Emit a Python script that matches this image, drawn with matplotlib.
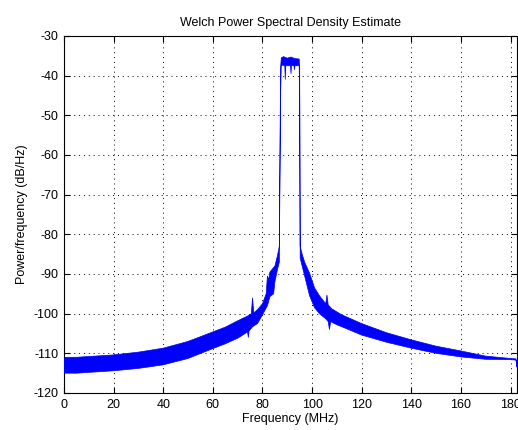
import numpy as np
import matplotlib
matplotlib.use("Agg")
from matplotlib import pyplot as plt

# envelope of the Welch PSD trace (MHz, dB/Hz)
upper_freq = [0, 5, 10, 20, 30, 40, 50, 60, 65, 70, 74, 75.5, 76, 76.5, 78, 80,
              81.5, 82, 82.5, 83, 85, 86, 86.8, 87.3, 87.6, 88.5, 90, 91.5, 93,
              94.8, 95.0, 95.2, 96, 97, 99, 101, 103, 105.5, 106, 106.5, 108,
              112, 120, 130, 140, 150, 160, 170, 180, 182.2, 182.6]
upper_db = [-111.0, -111.0, -110.8, -110.4, -109.7, -108.7, -107.0, -104.6,
            -103.4, -101.8, -100.6, -100.0, -96.0, -99.8, -99.0, -97.5, -95.0,
            -90.5, -91.5, -89.5, -88.0, -85.5, -83.0, -38.0, -35.5, -35.2,
            -35.6, -35.3, -35.7, -35.8, -38.0, -83.0, -85.0, -87.0, -89.8,
            -93.5, -95.5, -97.5, -95.3, -97.8, -98.8, -100.3, -102.5, -104.8,
            -106.6, -108.2, -109.4, -110.7, -111.3, -111.4, -113.0]

lower_freq = [0, 5, 10, 20, 30, 40, 50, 60, 65, 70, 74, 74.3, 74.6, 76, 78, 80,
              82, 83, 84.5, 85, 86, 86.8, 87.3, 87.6, 89.0, 89.2, 89.4, 91.3,
              91.5, 91.7, 92.7, 92.9, 93.1, 94.8, 95.0, 95.2, 96, 97, 99, 101,
              103, 105.5, 106.5, 107, 107.5, 110, 112, 120, 130, 140, 150, 160,
              170, 180, 182.2, 182.6]
lower_db = [-115.0, -115.0, -114.8, -114.4, -113.8, -112.9, -111.3, -108.8,
            -107.6, -106.2, -104.6, -106.0, -104.4, -103.3, -102.5, -100.3,
            -98.0, -95.7, -95.0, -92.0, -89.0, -87.0, -45.0, -37.3, -37.5,
            -41.0, -37.5, -37.5, -39.5, -37.5, -37.5, -38.5, -37.5, -37.5,
            -45.0, -86.0, -88.0, -90.5, -95.5, -98.5, -100.0, -101.3, -102.0,
            -104.0, -102.0, -102.8, -103.3, -105.4, -107.2, -108.7, -110.0,
            -110.9, -111.5, -111.6, -111.7, -113.5]

x_ticks = list(range(0, 181, 20))
y_ticks = list(range(-120, -29, 10))

plt.rcParams['font.family'] = ['Liberation Sans', 'DejaVu Sans']
plt.rcParams['font.size'] = 9
plt.rcParams['axes.unicode_minus'] = False

fig = plt.figure(figsize=(5.18, 4.30), dpi=100)
ax = fig.add_axes([64 / 518, 1 - 393 / 430, (517 - 64) / 518, (393 - 36) / 430])

poly_x = np.r_[upper_freq, lower_freq[::-1]]
poly_y = np.r_[upper_db, lower_db[::-1]]
ax.fill(poly_x, poly_y, facecolor='#0000ff', edgecolor='#0000ff', linewidth=0.5, zorder=3)

ax.set_xlim(0, 182.6)
ax.set_ylim(-120, -30)
ax.set_xticks(x_ticks)
ax.set_yticks(y_ticks)
ax.grid(True, color='black', linestyle=(0, (1, 4)), linewidth=0.7)
ax.tick_params(direction='in', length=4, width=0.8, top=True, right=True,
               labelsize=9, pad=4)
for s in ax.spines.values():
    s.set_linewidth(0.8)

ax.set_title('Welch Power Spectral Density Estimate', fontsize=9, pad=7)
ax.set_xlabel('Frequency (MHz)', fontsize=9, labelpad=2)
ax.set_ylabel('Power/frequency (dB/Hz)', fontsize=9, labelpad=4)

fig.savefig('out.png', dpi=100)
